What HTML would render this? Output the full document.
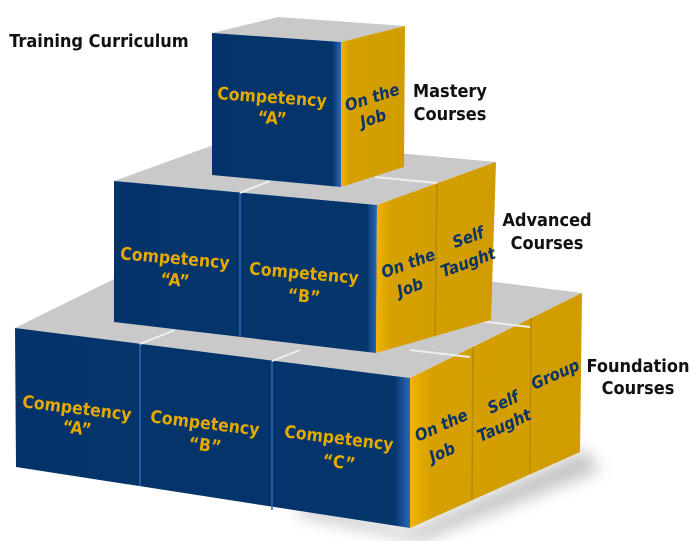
<!DOCTYPE html>
<html><head><meta charset="utf-8"><style>
html,body{margin:0;padding:0;background:#fff;}
svg{display:block;}
text{font-family:"DejaVu Sans Condensed","Liberation Sans",sans-serif;font-weight:bold;}
.b{fill:#e3a900;font-size:17.5px;text-anchor:middle;}
.g{fill:#0a3366;font-size:16.5px;text-anchor:middle;font-style:italic;}
.k{fill:#111;font-size:18px;text-anchor:middle;}
</style></head><body>
<svg width="700" height="541" viewBox="0 0 700 541" xmlns="http://www.w3.org/2000/svg">
<defs>
<linearGradient id="bl" x1="0" x2="1" y1="0" y2="0"><stop offset="0" stop-color="#03336a"/><stop offset="0.93" stop-color="#04356b"/><stop offset="1" stop-color="#2a68b8"/></linearGradient>
<linearGradient id="bl2" x1="0" x2="1" y1="0" y2="0"><stop offset="0" stop-color="#03336a"/><stop offset="0.96" stop-color="#04356b"/><stop offset="1" stop-color="#2a68b8"/></linearGradient>
<linearGradient id="gd" x1="0" x2="1" y1="0" y2="0"><stop offset="0" stop-color="#f0b400"/><stop offset="0.12" stop-color="#d6a000"/><stop offset="1" stop-color="#d09c00"/></linearGradient>
<filter id="sh" x="-20%" y="-20%" width="140%" height="160%"><feGaussianBlur stdDeviation="8"/></filter>
</defs>
<polygon points="300,500 410,530 585,450 600,470 420,541 300,515" fill="#888" opacity="0.5" filter="url(#sh)"/>
<!-- bottom tier -->
<polygon points="15,328 410,378 582,293 187,243" fill="#c9c9c9"/>
<polygon points="15,328 410,378 410,528 16,467" fill="url(#bl2)"/>
<line x1="140" y1="344" x2="140" y2="486" stroke="#2a68b8" stroke-width="1.5"/>
<line x1="272" y1="361" x2="272" y2="510" stroke="#2a68b8" stroke-width="1.5"/>
<polygon points="410,378 582,293 580,452 410,528" fill="url(#gd)"/>
<line x1="473" y1="347" x2="472" y2="500" stroke="#b88a00" stroke-width="1.5"/>
<line x1="531" y1="318" x2="530" y2="474" stroke="#b88a00" stroke-width="1.5"/>
<line x1="140" y1="344" x2="175" y2="330" stroke="#eee" stroke-width="2"/>
<line x1="272" y1="361" x2="300" y2="350" stroke="#eee" stroke-width="2"/>
<line x1="410" y1="350" x2="470" y2="357" stroke="#eee" stroke-width="2"/>
<line x1="470" y1="320" x2="530" y2="327" stroke="#eee" stroke-width="2"/>
<!-- middle tier -->
<polygon points="114,181 377,205 496,162 233,138" fill="#c9c9c9"/>
<polygon points="114,181 377,205 376,353 114,322" fill="url(#bl2)"/>
<line x1="240" y1="193" x2="240" y2="337" stroke="#2a68b8" stroke-width="1.5"/>
<polygon points="377,205 496,162 491,320 376,353" fill="url(#gd)"/>
<line x1="437" y1="183" x2="435" y2="336" stroke="#b88a00" stroke-width="1.5"/>
<line x1="240" y1="193" x2="270" y2="181" stroke="#eee" stroke-width="2"/>
<line x1="375" y1="177" x2="437" y2="183" stroke="#eee" stroke-width="2"/>
<!-- top cube -->
<polygon points="212,33 341,42 405,26 278,17" fill="#c9c9c9"/>
<polygon points="212,33 341,42 341,187 212,175" fill="url(#bl)"/>
<polygon points="341,42 405,26 404,167 341,187" fill="url(#gd)"/>
<g class="b">
<text x="272" y="103" transform="rotate(4 272 97)">Competency</text>
<text x="272" y="124" transform="rotate(4 272 120)">“A”</text>
<text x="175" y="264" transform="rotate(5 175 258)">Competency</text>
<text x="175" y="286" transform="rotate(5 175 280)">“A”</text>
<text x="304" y="279" transform="rotate(5 304 273)">Competency</text>
<text x="304" y="302" transform="rotate(5 304 296)">“B”</text>
<text x="77" y="414" transform="rotate(7 77 408)">Competency</text>
<text x="77" y="434" transform="rotate(7 77 428)">“A”</text>
<text x="205" y="429" transform="rotate(7 205 423)">Competency</text>
<text x="205" y="451" transform="rotate(7 205 445)">“B”</text>
<text x="339" y="444" transform="rotate(7 339 438)">Competency</text>
<text x="339" y="468" transform="rotate(7 339 462)">“C”</text>
</g>
<g class="g">
<text x="372" y="103" transform="rotate(-18 372 97)">On the</text>
<text x="373" y="124" transform="rotate(-18 373 118)">Job</text>
<text x="408" y="269" transform="rotate(-20 408 263)">On the</text>
<text x="410" y="293" transform="rotate(-20 410 287)">Job</text>
<text x="468" y="243" transform="rotate(-20 468 237)">Self</text>
<text x="468" y="268" transform="rotate(-20 468 262)">Taught</text>
<text x="441" y="431" transform="rotate(-24 441 425)">On the</text>
<text x="442" y="458" transform="rotate(-24 442 452)">Job</text>
<text x="503" y="408" transform="rotate(-24 503 402)">Self</text>
<text x="504" y="431" transform="rotate(-24 504 425)">Taught</text>
<text x="555" y="380" transform="rotate(-24 555 374)">Group</text>
</g>
<g class="k">
<text x="99" y="47">Training Curriculum</text>
<text x="450" y="97">Mastery</text>
<text x="450" y="120">Courses</text>
<text x="547" y="226">Advanced</text>
<text x="547" y="249">Courses</text>
<text x="638" y="372">Foundation</text>
<text x="638" y="394">Courses</text>
</g>
</svg>
</body></html>
